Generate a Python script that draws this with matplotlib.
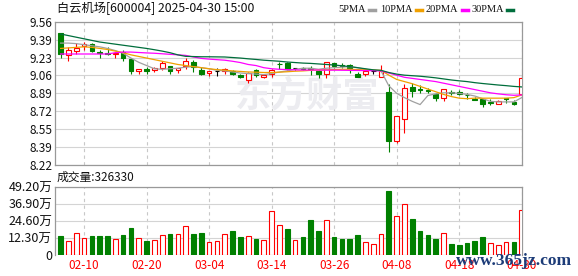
import numpy as np
import matplotlib.pyplot as plt

plt.rcParams['font.family'] = ['Noto Sans CJK SC', 'DejaVu Sans']

# trading days shown (2025)
dates = ["02-05", "02-06", "02-07", "02-10", "02-11", "02-12", "02-13", "02-14", "02-17", "02-18",
         "02-19", "02-20", "02-21", "02-24", "02-25", "02-26", "02-27", "02-28", "03-03", "03-04",
         "03-05", "03-06", "03-07", "03-10", "03-11", "03-12", "03-13", "03-14", "03-17", "03-18",
         "03-19", "03-20", "03-21", "03-24", "03-25", "03-26", "03-27", "03-28", "03-31", "04-01",
         "04-02", "04-03", "04-07", "04-08", "04-09", "04-10", "04-11", "04-14", "04-15", "04-16",
         "04-17", "04-18", "04-21", "04-22", "04-23", "04-24", "04-25", "04-28", "04-29", "04-30"]

opens = [9.45, 9.25, 9.29, 9.33, 9.35, 9.28, 9.265, 9.26, 9.28, 9.21,
         9.10, 9.115, 9.11, 9.13, 9.145, 9.11, 9.145, 9.185, 9.11, 9.08,
         9.10, 9.10, 9.10, 9.06, 9.015, 9.105, 9.04, 9.07, 9.165, 9.175,
         9.125, 9.125, 9.125, 9.10, 9.07, 9.17, 9.155, 9.155, 9.07, 9.07,
         9.10, 9.04, 8.90, 8.44, 8.65, 8.95, 8.93, 8.925, 8.88, 8.845,
         8.90, 8.90, 8.875, 8.84, 8.835, 8.805, 8.795, 8.845, 8.81, 8.88]
closes = [9.26, 9.30, 9.31, 9.35, 9.29, 9.27, 9.255, 9.27, 9.225, 9.10,
          9.115, 9.10, 9.125, 9.175, 9.10, 9.13, 9.19, 9.14, 9.07, 9.10,
          9.10, 9.115, 9.07, 9.045, 9.08, 9.06, 9.06, 9.11, 9.16, 9.12,
          9.125, 9.12, 9.12, 9.07, 9.185, 9.15, 9.15, 9.13, 9.045, 9.10,
          9.10, 9.10, 8.44, 8.68, 8.94, 8.915, 8.925, 8.915, 8.845, 8.93,
          8.895, 8.885, 8.87, 8.825, 8.79, 8.80, 8.82, 8.84, 8.795, 9.03]
highs = [9.45, 9.32, 9.36, 9.37, 9.36, 9.30, 9.32, 9.275, 9.295, 9.21,
         9.12, 9.14, 9.14, 9.19, 9.15, 9.13, 9.225, 9.20, 9.14, 9.10,
         9.125, 9.13, 9.11, 9.07, 9.09, 9.12, 9.07, 9.12, 9.185, 9.185,
         9.13, 9.14, 9.15, 9.105, 9.185, 9.175, 9.17, 9.165, 9.09, 9.10,
         9.11, 9.155, 8.98, 8.68, 8.98, 8.985, 8.97, 8.94, 8.89, 8.93,
         8.92, 8.92, 8.89, 8.855, 8.84, 8.835, 8.825, 8.85, 8.825, 9.05]
lows = [9.22, 9.19, 9.26, 9.30, 9.28, 9.22, 9.25, 9.225, 9.195, 9.07,
        9.07, 9.075, 9.09, 9.11, 9.075, 9.08, 9.12, 9.09, 9.06, 9.05,
        9.05, 9.075, 9.06, 9.03, 8.99, 9.045, 9.03, 9.045, 9.12, 9.105,
        9.11, 9.11, 9.06, 9.03, 9.035, 9.125, 9.125, 9.08, 9.04, 9.05,
        9.075, 9.04, 8.34, 8.43, 8.52, 8.86, 8.89, 8.89, 8.82, 8.82,
        8.87, 8.87, 8.84, 8.825, 8.765, 8.78, 8.79, 8.80, 8.785, 8.87]

ma5 = [9.36, 9.36, 9.355, 9.345, 9.335, 9.325, 9.31, 9.29, 9.265, 9.22,
       9.18, 9.15, 9.12, 9.115, 9.12, 9.125, 9.135, 9.14, 9.13, 9.12,
       9.105, 9.10, 9.09, 9.08, 9.075, 9.07, 9.065, 9.075, 9.09, 9.10,
       9.115, 9.125, 9.125, 9.115, 9.125, 9.13, 9.135, 9.14, 9.13, 9.115,
       9.105, 9.10, 8.96, 8.89, 8.85, 8.815, 8.785, 8.87, 8.885, 8.895,
       8.895, 8.89, 8.88, 8.865, 8.84, 8.815, 8.81, 8.81, 8.81, 8.85]
ma10 = [9.31, 9.315, 9.32, 9.325, 9.32, 9.31, 9.30, 9.285, 9.27, 9.25,
        9.235, 9.22, 9.205, 9.19, 9.175, 9.16, 9.15, 9.14, 9.13, 9.12,
        9.112, 9.107, 9.10, 9.095, 9.09, 9.088, 9.085, 9.085, 9.088, 9.092,
        9.097, 9.10, 9.105, 9.108, 9.11, 9.112, 9.115, 9.115, 9.112, 9.11,
        9.108, 9.105, 9.06, 9.02, 9.0, 8.98, 8.955, 8.93, 8.905, 8.88,
        8.86, 8.845, 8.84, 8.845, 8.845, 8.845, 8.845, 8.845, 8.85, 8.875]
ma20 = [9.258, 9.258, 9.258, 9.258, 9.258, 9.258, 9.258, 9.27, 9.276, 9.276,
        9.272, 9.268, 9.265, 9.26, 9.255, 9.25, 9.245, 9.23, 9.217, 9.21,
        9.205, 9.20, 9.19, 9.178, 9.16, 9.15, 9.13, 9.12, 9.115, 9.112,
        9.11, 9.108, 9.108, 9.108, 9.107, 9.107, 9.106, 9.105, 9.104, 9.103,
        9.102, 9.10, 9.08, 9.06, 9.04, 9.03, 9.02, 9.01, 9.0, 8.985,
        8.97, 8.955, 8.94, 8.925, 8.91, 8.895, 8.885, 8.877, 8.872, 8.875]
ma30 = [9.445, 9.43, 9.415, 9.40, 9.385, 9.37, 9.36, 9.35, 9.34, 9.33,
        9.32, 9.31, 9.298, 9.285, 9.27, 9.25, 9.236, 9.234, 9.232, 9.232,
        9.231, 9.23, 9.225, 9.22, 9.213, 9.207, 9.20, 9.195, 9.19, 9.183,
        9.178, 9.173, 9.17, 9.165, 9.16, 9.155, 9.148, 9.14, 9.13, 9.12,
        9.11, 9.105, 9.085, 9.07, 9.06, 9.055, 9.05, 9.043, 9.035, 9.025,
        9.015, 9.007, 9.0, 8.99, 8.982, 8.975, 8.968, 8.962, 8.955, 8.95]

# volume in 万 shares
volume = [13.7, 10.1, 15.6, 12.0, 13.7, 13.7, 13.7, 11.3, 14.4, 19.2,
          12.0, 10.1, 10.8, 14.2, 15.1, 15.0, 20.7, 15.0, 15.6, 9.4,
          10.1, 15.0, 17.3, 13.0, 13.4, 11.5, 10.8, 31.7, 21.4, 18.7,
          10.8, 13.0, 25.2, 17.5, 25.0, 13.0, 11.5, 11.5, 14.4, 9.4,
          7.7, 14.9, 46.1, 27.9, 36.7, 25.9, 17.5, 14.4, 11.5, 15.6,
          7.9, 7.2, 8.6, 10.1, 13.0, 8.4, 7.2, 9.1, 9.4, 32.633]
vol_up = [0, 1, 1, 1, 0, 0, 0, 1, 0, 0,
          1, 0, 1, 1, 0, 1, 1, 0, 0, 1,
          1, 1, 0, 0, 1, 0, 1, 1, 1, 0,
          1, 0, 0, 0, 1, 0, 0, 0, 0, 1,
          1, 1, 0, 1, 1, 0, 0, 0, 0, 1,
          0, 0, 0, 0, 0, 1, 1, 1, 0, 1]

price_labels = ["8.22", "8.39", "8.55", "8.72", "8.89", "9.06", "9.23", "9.39", "9.56"]
vol_ticks = [0, 12.3, 24.6, 36.9, 49.2]
vol_labels = ["0", "12.30万", "24.60万", "36.90万", "49.20万"]
last_volume = 326330

RED = '#ff0000'
GREEN = '#008000'
MA_COLORS = ['#a0a0a0', '#f0a000', '#ff00ff', '#006e3c']
W, H = 578, 276

fig = plt.figure(figsize=(W / 100, H / 100), dpi=100)
ax = fig.add_axes([55 / W, 1 - 165 / H, 467 / W, 143.3 / H])
axv = fig.add_axes([55 / W, 1 - 255 / H, 467 / W, 68.3 / H])

x = np.arange(len(dates))
o = np.array(opens)
c = np.array(closes)
hi = np.array(highs)
lo = np.array(lows)
tick_idx = list(range(3, len(dates), 8))

for a in (ax, axv):
    a.set_xlim(-0.72, len(dates) - 0.96)
    for s in a.spines.values():
        s.set_color('#999999')
        s.set_linewidth(0.9)
    for t in tick_idx:
        a.axvline(t, color='#c8c8c8', lw=0.8, ls=(0, (3, 3)), zorder=0.5)
    a.tick_params(length=0, labelsize=8.5, colors='#111111', pad=2)
    a.set_axisbelow(True)

# price panel
ax.set_ylim(8.22, 9.56)
ax.set_yticks(np.linspace(8.22, 9.56, len(price_labels)), price_labels)
ax.yaxis.grid(True, color='#d4d4d4', lw=0.8)
ax.set_xticks([])

ax.text(0.385, 0.48, "东方财富", transform=ax.transAxes, fontsize=26, fontweight='bold',
        color='#ececf0', ha='left', va='center', zorder=0.6)

for i in x:
    if c[i] > o[i]:
        ax.vlines(i, lo[i], o[i], color=RED, lw=0.8, zorder=2)
        ax.vlines(i, c[i], hi[i], color=RED, lw=0.8, zorder=2)
        ax.bar(i, c[i] - o[i], bottom=o[i], width=0.6, facecolor='white',
               edgecolor=RED, lw=0.8, zorder=3)
    elif c[i] < o[i]:
        ax.vlines(i, lo[i], hi[i], color=GREEN, lw=0.8, zorder=2)
        ax.bar(i, o[i] - c[i], bottom=c[i], width=0.6, facecolor=GREEN,
               edgecolor=GREEN, lw=0.8, zorder=3)
    else:
        ax.vlines(i, lo[i], hi[i], color='black', lw=0.8, zorder=2)
        ax.hlines(o[i], i - 0.3, i + 0.3, color='black', lw=0.8, zorder=3)

for ma, col in zip([ma5, ma10, ma20, ma30], MA_COLORS):
    ax.plot(x, ma, color=col, lw=0.9, zorder=4)

# volume panel
axv.set_ylim(0, 49.2)
axv.set_yticks(vol_ticks, vol_labels)
axv.tick_params(axis='y', labelsize=9)
axv.yaxis.grid(True, color='#d4d4d4', lw=0.8)
axv.spines['bottom'].set_visible(False)
for i in x:
    if vol_up[i]:
        axv.bar(i, volume[i], width=0.6, facecolor='white', edgecolor=RED, lw=0.8, zorder=3)
    else:
        axv.bar(i, volume[i], width=0.6, facecolor=GREEN, edgecolor=GREEN, lw=0.8, zorder=3)
axv.set_xticks(tick_idx, [dates[t] for t in tick_idx])
axv.tick_params(axis='x', colors=RED, pad=3)

# header texts
fig.text(57 / W, 1 - 9 / H, "白云机场[600004] 2025-04-30 15:00", fontsize=8.8,
         va='center', ha='left', color='#111111')
fig.text(57 / W, 1 - 177 / H, f"成交量:{last_volume}", fontsize=8.5,
         va='center', ha='left', color='#111111')

legend_x = [338, 380, 426, 471]
for lx, name, col in zip(legend_x, ["5PMA", "10PMA", "20PMA", "30PMA"], MA_COLORS):
    t = fig.text(lx / W, 1 - 9 / H, name, fontsize=7.5, family='Liberation Serif',
                 va='center', ha='left', color='#111111')
    fig.canvas.draw()
    bb = t.get_window_extent()
    x0 = bb.x1 + 3
    fig.add_artist(plt.Line2D([x0 / W, (x0 + 6) / W], [1 - 9.5 / H, 1 - 9.5 / H],
                              transform=fig.transFigure, color=col, lw=2.5))

fig.text(456 / W, 1 - 261 / H, "www.365jz.com", fontsize=12.5, family='Liberation Serif',
         fontweight='bold', color='#1d3c78', va='center', ha='left')

fig.savefig("out.png", dpi=100)
